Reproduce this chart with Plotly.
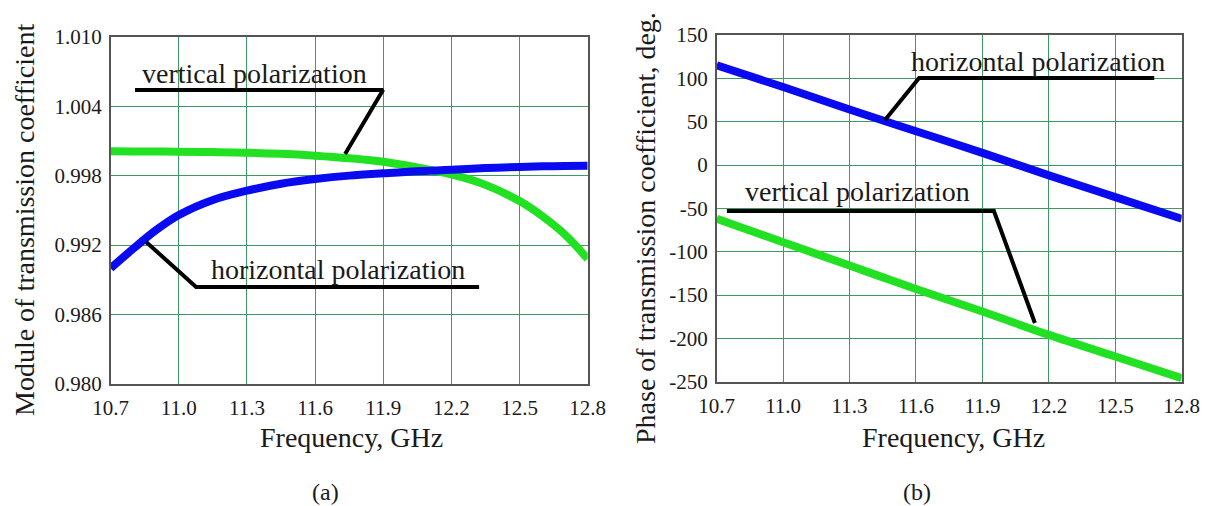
import plotly.graph_objects as go

# ---------------- data ----------------
# (a) module of transmission coefficient
freq_mod = [10.7, 10.8, 10.9, 11.0, 11.15, 11.3, 11.45, 11.6, 11.75, 11.9, 12.05, 12.2, 12.35, 12.5, 12.6, 12.7, 12.8]
mod_horizontal = [0.9900, 0.9917, 0.9933, 0.9946, 0.9959, 0.9967, 0.9973, 0.9977, 0.9980, 0.9982, 0.99838, 0.9985, 0.99865, 0.99875, 0.9988, 0.99883, 0.99885]
mod_vertical = [1.0001, 1.00009, 1.00008, 1.00006, 1.00003, 0.99998, 0.99988, 0.99972, 0.9995, 0.9992, 0.9987, 0.9981, 0.9972, 0.9958, 0.9945, 0.9929, 0.9908]

# (b) phase of transmission coefficient
freq_ph = [10.7, 11.0, 11.3, 11.6, 11.9, 12.2, 12.5, 12.8]
ph_horizontal = [115, 90, 64, 39, 14, -12, -37, -62]
ph_vertical = [-62, -89, -116, -143, -169, -196, -221, -246]

x_ticks = [10.7, 11.0, 11.3, 11.6, 11.9, 12.2, 12.5, 12.8]
x_ticktext = ["10.7", "11.0", "11.3", "11.6", "11.9", "12.2", "12.5", "12.8"]
mod_ticks = [0.980, 0.986, 0.992, 0.998, 1.004, 1.010]
mod_ticktext = ["0.980", "0.986", "0.992", "0.998", "1.004", "1.010"]
ph_ticks = [-250, -200, -150, -100, -50, 0, 50, 100, 150]
ph_ticktext = ["-250", "-200", "-150", "-100", "-50", "0", "50", "100", "150"]

# leader lines (callouts) in data coordinates
lead_a_vert_x = [10.807, 11.899, 11.732]
lead_a_vert_y = [1.0054, 1.0054, 0.99987]
lead_a_hor_x = [10.856, 11.076, 12.322]
lead_a_hor_y = [0.99227, 0.98838, 0.98838]
lead_b_hor_x = [11.460, 11.614, 12.676]
lead_b_hor_y = [51.9, 100.4, 100.4]
lead_b_vert_x = [10.746, 11.952, 12.137]
lead_b_vert_y = [-53.1, -53.1, -182.3]

# ---------------- styles ----------------
FONT = "'Liberation Serif', 'Times New Roman', Times, serif"
BLUE = "#0a0af0"
GREEN = "#22e022"
GRID = "#3a9c62"
BORDER = "#555555"
TXT = "#1a1a1a"

fig = go.Figure()

def curve(x, y, color, xa, ya):
    fig.add_trace(go.Scatter(x=x, y=y, mode="lines", line=dict(color=color, width=8, shape="spline", smoothing=1.0),
                             xaxis=xa, yaxis=ya, showlegend=False, hoverinfo="skip"))

def leader(x, y, xa, ya):
    fig.add_trace(go.Scatter(x=x, y=y, mode="lines", line=dict(color="black", width=4),
                             xaxis=xa, yaxis=ya, showlegend=False, hoverinfo="skip"))

# panel (a)
curve(freq_mod, mod_vertical, GREEN, "x", "y")
curve(freq_mod, mod_horizontal, BLUE, "x", "y")
leader(lead_a_vert_x, lead_a_vert_y, "x", "y")
leader(lead_a_hor_x, lead_a_hor_y, "x", "y")

# panel (b)
curve(freq_ph, ph_horizontal, BLUE, "x2", "y2")
curve(freq_ph, ph_vertical, GREEN, "x2", "y2")
leader(lead_b_hor_x, lead_b_hor_y, "x2", "y2")
leader(lead_b_vert_x, lead_b_vert_y, "x2", "y2")

W, H = 1205, 506
axis_common = dict(showgrid=True, gridcolor=GRID, gridwidth=1, showline=True, linecolor=BORDER, linewidth=1.5,
                   mirror=True, zeroline=False, ticks="", tickfont=dict(family=FONT, size=21, color=TXT),
                   tickmode="array", automargin=False)

fig.update_layout(
    width=W, height=H,
    margin=dict(l=0, r=0, t=0, b=0, autoexpand=False),
    paper_bgcolor="white", plot_bgcolor="white",
    font=dict(family=FONT, color=TXT),
    xaxis=dict(domain=[110.7 / W, 587.7 / W], range=[10.7, 12.8], tickvals=x_ticks, ticktext=x_ticktext,
               anchor="y", ticklabelstandoff=4, **axis_common),
    yaxis=dict(domain=[1 - 384 / H, 1 - 36.7 / H], range=[0.980, 1.010], tickvals=mod_ticks, ticktext=mod_ticktext,
               anchor="x", ticklabelstandoff=3, **axis_common),
    xaxis2=dict(domain=[716.7 / W, 1181.7 / W], range=[10.7, 12.8], tickvals=x_ticks, ticktext=x_ticktext,
                anchor="y2", ticklabelstandoff=4, **axis_common),
    yaxis2=dict(domain=[1 - 381.7 / H, 1 - 35 / H], range=[-250, 150], tickvals=ph_ticks, ticktext=ph_ticktext,
                anchor="x2", ticklabelstandoff=3, **axis_common),
)

def note(text, x, y, xref, yref, size=28, angle=0):
    fig.add_annotation(text=text, x=x, y=y, xref=xref, yref=yref, showarrow=False, textangle=angle,
                       xanchor="center", yanchor="middle", borderpad=0,
                       font=dict(family=FONT, size=size, color=TXT))

# callout texts
note("vertical polarization", 11.333, 1.00678, "x", "y")
note("horizontal polarization", 11.6985, 0.98989, "x", "y")
note("horizontal polarization", 12.149, 119.4, "x2", "y2")
note("vertical polarization", 11.338, -30.6, "x2", "y2")

# axis titles and panel labels
note("Frequency, GHz", 351 / W, 1 - 437 / H, "paper", "paper")
note("Frequency, GHz", 953 / W, 1 - 437 / H, "paper", "paper")
note("Module of transmission coefficient", 25 / W, 1 - 220 / H, "paper", "paper", angle=-90)
note("Phase of transmission coefficient, deg.", 645 / W, 1 - 228 / H, "paper", "paper", angle=-90)
note("(a)", 325 / W, 1 - 492 / H, "paper", "paper", size=24)
note("(b)", 917 / W, 1 - 492 / H, "paper", "paper", size=24)

fig.write_html("out.html",
               config={"displayModeBar": False},
               post_script="document.body.style.margin='0';document.body.style.overflow='hidden';")
